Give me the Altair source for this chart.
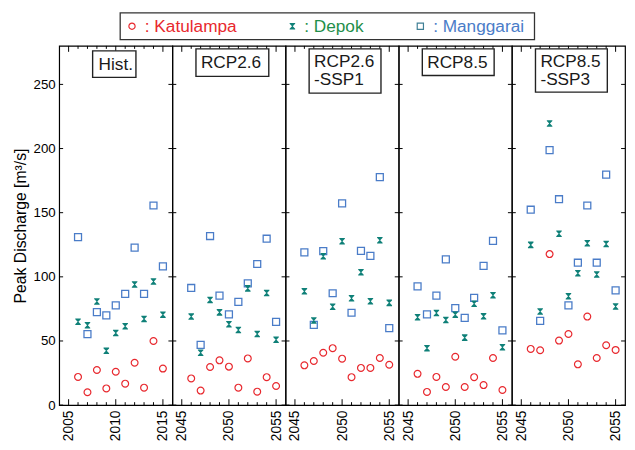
import altair as alt
import pandas as pd

# ---------------- data ----------------
hist_years = [2006, 2007, 2008, 2009, 2010, 2011, 2012, 2013, 2014, 2015]
future_years = [2046, 2047, 2048, 2049, 2050, 2051, 2052, 2053, 2054, 2055]

panel_lines = [["Hist."], ["RCP2.6"], ["RCP2.6", "-SSP1"], ["RCP8.5"], ["RCP8.5", "-SSP3"]]

katulampa = [
    [22, 10, 27.4, 13, 26, 16.7, 33, 13.6, 50, 28.5],
    [20.8, 11.3, 29.7, 34.9, 30, 13.6, 36.4, 10.5, 21.8, 14.9],
    [31, 34.4, 40.8, 44.4, 36.2, 21.8, 29, 29, 36.7, 31.5],
    [24.4, 10.3, 22, 14.1, 37.7, 14.1, 21.8, 15.6, 36.7, 11.8],
    [43.8, 42.8, 117.7, 50.3, 55.4, 31.8, 69, 36.7, 46.7, 43],
]
depok = [
    [65, 62.3, 80.8, 42.3, 56.2, 61.5, 94, 67.2, 96.4, 70.5],
    [69, 40.8, 82, 72.3, 63, 58.5, 91, 55.4, 87.4, 51],
    [88.7, 66, 116, 76.7, 127.7, 83.3, 103.6, 81, 128.5, 79.7],
    [68.5, 44.4, 71.8, 66.4, 70.5, 52.6, 79, 69.2, 85.6, 45.1],
    [124.9, 73, 219.5, 133.6, 84.9, 102.8, 126.2, 101.8, 125.6, 76.9],
]
manggarai = [
    [131, 55.4, 72.5, 70, 77.7, 86.7, 122.8, 86.7, 155.6, 108.2],
    [91.3, 47, 131.8, 85.4, 70.8, 80.5, 94.9, 110, 129.7, 64.9],
    [119, 62.6, 120, 87.2, 157.2, 72, 120.3, 116.4, 177.7, 60],
    [92.6, 70.8, 85.4, 113.6, 75.6, 68, 83.6, 108.5, 128, 58.2],
    [152.3, 65.6, 198.7, 160.5, 77.7, 111, 155.6, 111, 179.7, 89.5],
]

x_domains = [[2004, 2016], [2044, 2056], [2044, 2056], [2044, 2056], [2044, 2056]]
x_label_values = [[2005, 2010, 2015]] + [[2045, 2050, 2055]] * 4
y_ticks = [0, 50, 100, 150, 200, 250]
y_domain = [0, 280]

legend_names = [": Katulampa", ": Depok", ": Manggarai"]

# ---------------- style ----------------
FONT = "Liberation Sans"
RED = "#e8282e"
TEAL = "#0f8078"
BLUE = "#4a7cc8"
DEPOK_TEXT = "#1f8f4a"
W, H = 115, 365
HOURGLASS = "M-0.85,-1L0.85,-1L0.85,-0.75L0.12,0L0.85,0.75L0.85,1L-0.85,1L-0.85,0.75L-0.12,0L-0.85,-0.75Z"

# label box geometry (panel-relative pixels): x0, x1, y0, y1, text x, first-line y
label_boxes = [
    (34, 78, 5, 32, 40, 19),
    (24, 98, 3, 31, 29, 17),
    (24, 97, 3, 48, 29, 16),
    (24, 97, 3, 30, 29, 17),
    (24, 97, 3, 47, 29, 16),
]
LINE_H = 19

# legend geometry, relative to the first panel's top-left corner
LEG_Y = -20
one = pd.DataFrame({"a": [0]})


def legend_layers():
    leg_box = alt.Chart(one).mark_rect(fill="white", stroke="#333333", strokeWidth=1.3).encode(
        x=alt.value(62), x2=alt.value(483), y=alt.value(LEG_Y - 13.5), y2=alt.value(LEG_Y + 13.5))
    leg_kat_m = alt.Chart(one).mark_point(shape="circle", filled=False, color=RED, size=40,
                                          strokeWidth=1.2, opacity=1).encode(
        x=alt.value(74), y=alt.value(LEG_Y))
    leg_dep_m = alt.Chart(one).mark_point(shape=HOURGLASS, filled=True, color=TEAL, size=44,
                                          opacity=1).encode(x=alt.value(237), y=alt.value(LEG_Y))
    leg_man_m = alt.Chart(one).mark_point(shape="square", filled=False, color="#3f7f95", size=40,
                                          strokeWidth=1.2, opacity=1).encode(
        x=alt.value(367), y=alt.value(LEG_Y))

    def leg_text(name, color, x):
        return alt.Chart(one).mark_text(text=name, align="left", baseline="middle", fontSize=17.5,
                                        color=color, font=FONT).encode(
            x=alt.value(x), y=alt.value(LEG_Y + 1))

    return [leg_box, leg_kat_m, leg_dep_m, leg_man_m,
            leg_text(legend_names[0], RED, 87),
            leg_text(legend_names[1], DEPOK_TEXT, 249),
            leg_text(legend_names[2], BLUE, 380)]


def panel(i):
    years = hist_years if i == 0 else future_years
    xs = alt.Scale(domain=x_domains[i], nice=False, zero=False)
    ys = alt.Scale(domain=y_domain, nice=False)
    xaxis = alt.Axis(values=x_label_values[i], labelAngle=270, ticks=False, domain=False,
                     grid=False, labelFontSize=14, labelPadding=5, title=None, format="d",
                     labelFlush=False, labelOverlap=False, labelColor="black")
    if i == 0:
        yaxis = alt.Axis(values=y_ticks, ticks=False, domain=False, grid=False, labelFontSize=13.5,
                         labelPadding=4, title="Peak Discharge [m³/s]", titleFontSize=16,
                         titleFontWeight="normal", titlePadding=5, labelColor="black",
                         titleColor="black")
    else:
        yaxis = None

    X = alt.X("year:Q", scale=xs, axis=xaxis)
    Y = alt.Y("value:Q", scale=ys, axis=yaxis)

    kat = pd.DataFrame({"year": years, "value": katulampa[i]})
    dep = pd.DataFrame({"year": years, "value": depok[i]})
    man = pd.DataFrame({"year": years, "value": manggarai[i]})

    p_man = alt.Chart(man).mark_point(shape="square", filled=False, color=BLUE, size=50,
                                      strokeWidth=1.3, opacity=1).encode(x=X, y=Y)
    p_dep = alt.Chart(dep).mark_point(shape=HOURGLASS, filled=True, color=TEAL, size=44,
                                      opacity=1).encode(x=X, y=Y)
    p_kat = alt.Chart(kat).mark_point(shape="circle", filled=False, color=RED, size=48,
                                      strokeWidth=1.2, opacity=1).encode(x=X, y=Y)

    # inward ticks
    ydf = pd.DataFrame({"value": y_ticks})
    yr_all = list(range(x_domains[i][0] + 1, x_domains[i][1]))
    minor = pd.DataFrame({"year": [y for y in yr_all if y % 5 != 0]})
    major = pd.DataFrame({"year": [y for y in yr_all if y % 5 == 0]})

    def yt(x0, x1):
        return alt.Chart(ydf).mark_rule(color="black", strokeWidth=1).encode(
            y=Y, x=alt.value(x0), x2=alt.value(x1))

    def xt(df, y0, y1):
        return alt.Chart(df).mark_rule(color="black", strokeWidth=1).encode(
            x=X, y=alt.value(y0), y2=alt.value(y1))

    ticks = [yt(0, 4), yt(W - 4, W),
             xt(minor, H, H - 3), xt(major, H, H - 6),
             xt(minor, 0, 3), xt(major, 0, 6)]

    x0, x1, y0, y1, tx, ty = label_boxes[i]
    box = alt.Chart(one).mark_rect(fill="white", stroke="#222222", strokeWidth=1.4).encode(
        x=alt.value(x0), x2=alt.value(x1), y=alt.value(y0), y2=alt.value(y1))
    texts = []
    for k, line in enumerate(panel_lines[i]):
        texts.append(alt.Chart(one).mark_text(text=line, align="left", baseline="middle",
                                              fontSize=17.5, color="#1a1a1a", font=FONT).encode(
            x=alt.value(tx), y=alt.value(ty + k * LINE_H)))

    extra = legend_layers() if i == 0 else []
    return alt.layer(p_man, p_dep, p_kat, *ticks, box, *texts, *extra).properties(
        width=W, height=H, view=alt.ViewBackground(stroke="black", strokeWidth=1.2))


panels = [panel(i) for i in range(5)]
chart = alt.hconcat(*panels, spacing=0, bounds="flush").properties(
    padding={"left": 3, "top": 0, "right": 0, "bottom": 0}
).configure(font=FONT).configure_view(stroke="transparent")

chart.save("out.html", embed_options={"renderer": "svg", "actions": False})
